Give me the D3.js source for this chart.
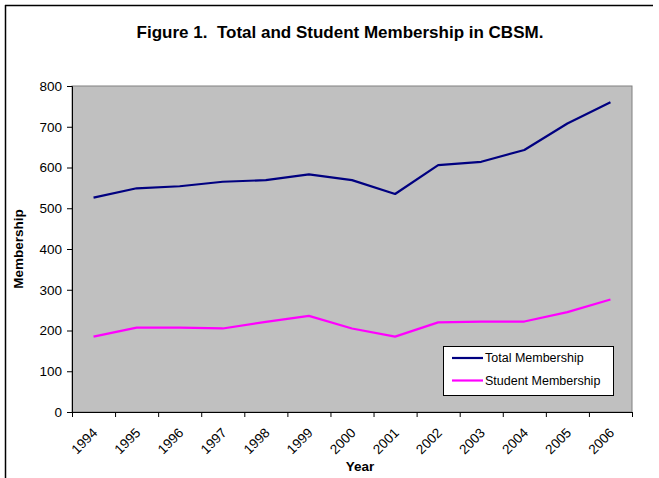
<!DOCTYPE html>
<html><head><meta charset="utf-8">
<script src="https://cdn.jsdelivr.net/npm/d3@7"></script>
<style>
body{margin:0;background:#fff;}
svg{display:block;font-family:Arial,"Liberation Sans",sans-serif;}
</style></head>
<body>
<svg id="c" width="659" height="478"></svg>
<script>
const years = ["1994","1995","1996","1997","1998","1999","2000","2001","2002","2003","2004","2005","2006"];
const totalMembership = [526,549,554,565,569,583,569,535,606,614,643,708,760];
const studentMembership = [185,207,207,205,221,236,205,185,220,222,222,245,276];
const yTicks = [0,100,200,300,400,500,600,700,800];
const seriesNames = ["Total Membership","Student Membership"];
const seriesColors = ["#000080","#FF00FF"];

const svg = d3.select("#c");
// outer frame (top and left)
svg.append("line").attr("x1",5).attr("x2",653).attr("y1",5.5).attr("y2",5.5).attr("stroke","#000").attr("stroke-width",1.5);
svg.append("line").attr("x1",5.5).attr("x2",5.5).attr("y1",5).attr("y2",478).attr("stroke","#000").attr("stroke-width",1.5);

const L=72, R=632, T=86, B=412;
const x = d3.scaleBand().domain(years).range([L,R]).padding(0);
const y = d3.scaleLinear().domain([0,800]).range([B,T]);

svg.append("rect").attr("x",L).attr("y",T).attr("width",R-L).attr("height",B-T)
  .attr("fill","#C0C0C0").attr("stroke","#808080").attr("stroke-width",1);

// title
svg.append("text").attr("x",340).attr("y",38).attr("text-anchor","middle")
  .style("white-space","pre").attr("xml:space","preserve")
  .attr("font-size","17px").attr("font-weight","bold").text("Figure 1.  Total and Student Membership in CBSM.");

// y axis
const ya = svg.append("g").attr("transform",`translate(${L},0)`)
  .call(d3.axisLeft(y).tickValues(yTicks).tickSize(5).tickPadding(5).tickFormat(d3.format("d")));
ya.select(".domain").attr("stroke","#000");
ya.selectAll("text").attr("font-size","13.5px").attr("fill","#000").attr("font-family","Arial,'Liberation Sans',sans-serif");

// x axis with ticks at category boundaries
const xa = svg.append("g").attr("transform",`translate(0,${B})`);
xa.append("line").attr("x1",L).attr("x2",R).attr("y1",0.5).attr("y2",0.5).attr("stroke","#000");
const bounds = years.map(d=>x(d)).concat([R]);
xa.selectAll("line.tk").data(bounds).join("line").attr("class","tk")
  .attr("x1",d=>d+0.5).attr("x2",d=>d+0.5).attr("y1",0).attr("y2",5).attr("stroke","#000");
xa.selectAll("text.lb").data(years).join("text").attr("class","lb")
  .attr("transform",d=>`translate(${x(d)+x.bandwidth()/2-2},${15}) rotate(-45)`)
  .attr("text-anchor","end").attr("dy","0.7em").attr("font-size","13.5px").text(d=>d);

// axis titles
svg.append("text").attr("transform",`translate(23,${(T+B)/2}) rotate(-90)`)
  .attr("text-anchor","middle").attr("font-size","13.5px").attr("font-weight","bold").text("Membership");
svg.append("text").attr("x",360).attr("y",471).attr("text-anchor","middle")
  .attr("font-size","13.5px").attr("font-weight","bold").text("Year");

// lines
const line = d3.line().x((d,i)=>x(years[i])+x.bandwidth()/2).y(d=>y(d));
[totalMembership, studentMembership].forEach((s,i)=>{
  svg.append("path").datum(s).attr("d",line).attr("fill","none")
    .attr("stroke",seriesColors[i]).attr("stroke-width",2.2).attr("stroke-linejoin","round");
});

// legend
const lg = svg.append("g").attr("transform","translate(443,346)");
lg.append("rect").attr("x",0.5).attr("y",0.5).attr("width",170).attr("height",49).attr("fill","#fff").attr("stroke","#000");
seriesNames.forEach((n,i)=>{
  const yy = 12 + i*22.5;
  lg.append("line").attr("x1",9).attr("x2",40).attr("y1",yy).attr("y2",yy).attr("stroke",seriesColors[i]).attr("stroke-width",2.2);
  lg.append("text").attr("x",42).attr("y",yy).attr("dy","0.35em").attr("font-size","12.5px").text(n);
});
</script>
</body></html>
